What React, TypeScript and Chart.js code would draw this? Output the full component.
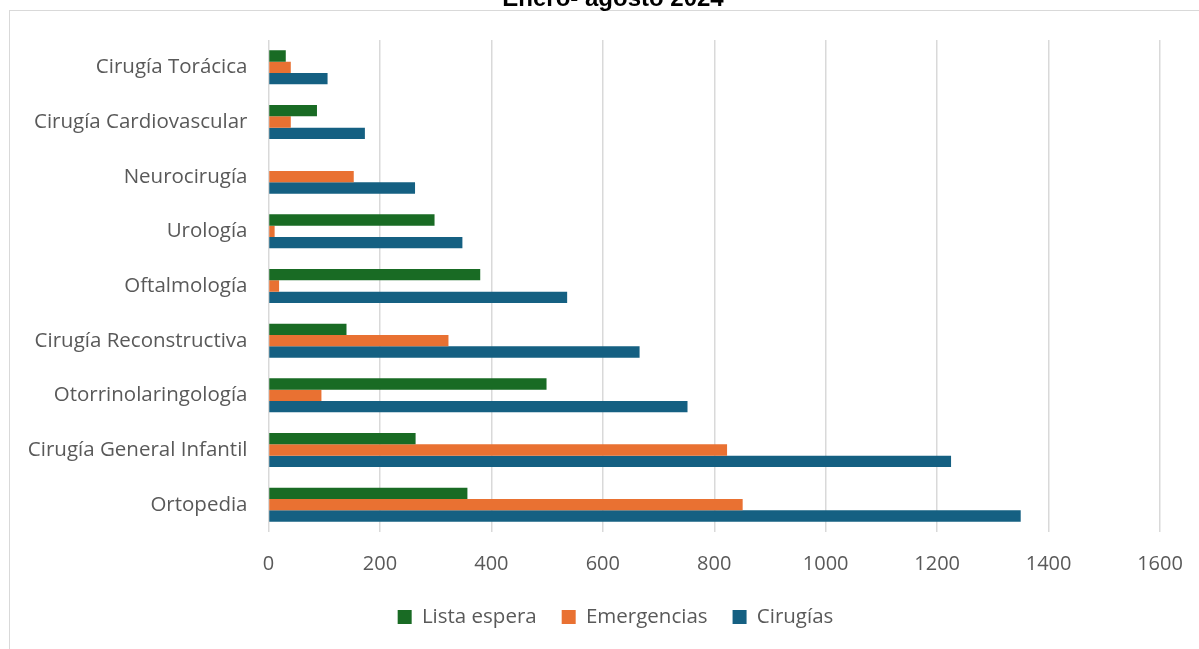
import { useEffect, useRef } from "react";
import { Chart, registerables } from "chart.js";

Chart.register(...registerables);

const categories = [
  "Cirugía Torácica",
  "Cirugía Cardiovascular",
  "Neurocirugía",
  "Urología",
  "Oftalmología",
  "Cirugía Reconstructiva",
  "Otorrinolaringología",
  "Cirugía General Infantil",
  "Ortopedia",
];

const listaEspera = [31, 87, 0, 298, 380, 140, 499, 264, 357];
const emergencias = [40, 40, 153, 11, 19, 323, 95, 823, 851];
const cirugias = [106, 173, 263, 348, 536, 666, 752, 1225, 1350];

const xTicks = [0, 200, 400, 600, 800, 1000, 1200, 1400, 1600];

const titleText = "Enero- agosto 2024";

const labelFont = "'Open Sans', 'Liberation Sans', sans-serif";
const gridColor = "#d9d9d9";
const textColor = "#595959";

// Title centred on the whole chart frame (not on the plot area), partly above the top edge
const frameTitle = {
  id: "frameTitle",
  afterDraw(chart: any) {
    const { ctx, width } = chart;
    ctx.save();
    ctx.fillStyle = "#000000";
    ctx.font = "bold 24px 'Liberation Sans', Arial, sans-serif";
    ctx.textAlign = "center";
    ctx.textBaseline = "alphabetic";
    ctx.fillText(titleText, width / 2, 30.5);
    ctx.restore();
  },
};

// Centre the legend on the frame as well, rather than on the padded layout box
const legendOnFrame = {
  id: "legendOnFrame",
  afterLayout(chart: any) {
    const legend = chart.legend;
    if (!legend) return;
    const shift = 31;
    legend.left += shift;
    legend.right += shift;
  },
};

export default function App() {
  const canvasRef = useRef<HTMLCanvasElement>(null);

  useEffect(() => {
    const canvas = canvasRef.current;
    if (!canvas) return;
    const chart = new Chart(canvas, {
      type: "bar",
      data: {
        labels: categories,
        datasets: [
          { label: "Lista espera", data: listaEspera, backgroundColor: "#196B24", borderWidth: 0 },
          { label: "Emergencias", data: emergencias, backgroundColor: "#E97132", borderWidth: 0 },
          { label: "Cirugías", data: cirugias, backgroundColor: "#156082", borderWidth: 0 },
        ],
      },
      plugins: [frameTitle, legendOnFrame],
      options: {
        indexAxis: "y",
        responsive: false,
        animation: false,
        datasets: { bar: { categoryPercentage: 0.622, barPercentage: 1 } },
        layout: { padding: { top: 65, left: 0, right: 57, bottom: 11.75 } },
        plugins: {
          tooltip: { enabled: false },
          title: { display: false },
          legend: {
            position: "bottom",
            labels: {
              boxWidth: 14,
              boxHeight: 14,
              padding: 25,
              color: textColor,
              font: { family: labelFont, size: 20.5 },
            },
          },
        },
        scales: {
          x: {
            type: "linear",
            min: 0,
            max: 1600,
            afterBuildTicks: (scale: any) => {
              scale.ticks = xTicks.map((v) => ({ value: v }));
            },
            afterFit: (scale: any) => {
              scale.height = 49.75;
            },
            grid: { color: gridColor, lineWidth: 1.5, drawTicks: false },
            border: { display: false },
            ticks: {
              color: textColor,
              padding: 20.3,
              font: { family: labelFont, size: 20 },
              callback: (value: any) => String(value),
            },
          },
          y: {
            type: "category",
            grid: { display: false, drawTicks: false },
            border: { display: false },
            ticks: {
              color: textColor,
              padding: 21,
              font: { family: labelFont, size: 20.5 },
            },
            afterFit: (scale: any) => {
              scale.width = 259.5;
            },
          },
        },
      },
    });
    return () => chart.destroy();
  }, []);

  return (
    <div
      style={{
        position: "fixed",
        left: 0,
        top: 0,
        width: 1199,
        height: 649,
        overflow: "hidden",
        background: "#ffffff",
      }}
    >
      <div
        style={{
          position: "absolute",
          left: 9,
          top: 10,
          width: 1300,
          height: 800,
          border: `1.5px solid ${gridColor}`,
          boxSizing: "border-box",
        }}
      />
      <canvas
        ref={canvasRef}
        width={1208}
        height={674}
        style={{ position: "absolute", left: 9, top: -25, width: 1208, height: 674 }}
      />
    </div>
  );
}
